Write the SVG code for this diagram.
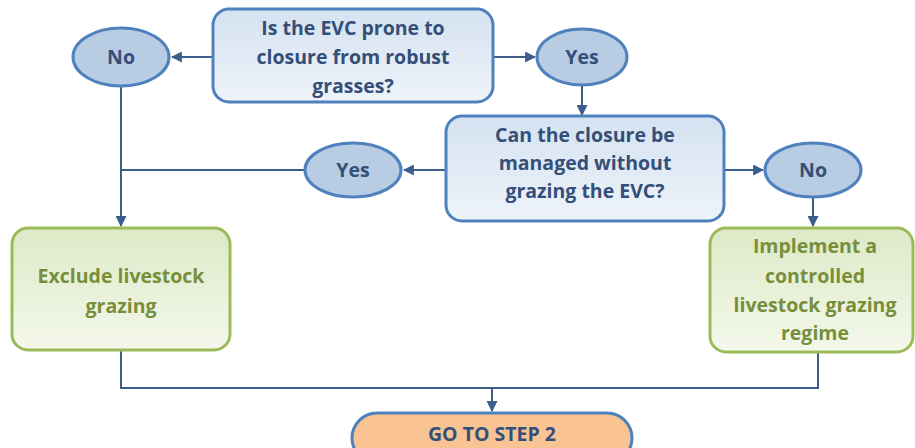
<svg xmlns="http://www.w3.org/2000/svg" width="915" height="448" viewBox="0 0 915 448">
<defs>
<linearGradient id="gb" x1="0" y1="0" x2="0" y2="1"><stop offset="0" stop-color="#d5e2f1"/><stop offset="1" stop-color="#eef3fa"/></linearGradient>
<linearGradient id="gg" x1="0" y1="0" x2="0" y2="1"><stop offset="0" stop-color="#dde9c6"/><stop offset="1" stop-color="#f4f8ec"/></linearGradient>
<marker id="ah" viewBox="0 0 10 10" refX="9" refY="5" markerWidth="5.5" markerHeight="5.5" orient="auto" markerUnits="strokeWidth"><path d="M0,0 L10,5 L0,10 z" fill="#3b5e8c"/></marker>
</defs>
<style>
.q{fill:url(#gb);stroke:#4f81bd;stroke-width:3}
.e{fill:#b8cce4;stroke:#4f81bd;stroke-width:3}
.a{fill:url(#gg);stroke:#9bbb59;stroke-width:3}
.t{font-family:"Open Sans",Lato,sans-serif;font-weight:bold;font-size:19.5px;text-anchor:middle;fill:#344f78}
.tg{font-family:"Open Sans",Lato,sans-serif;font-weight:bold;font-size:19.5px;text-anchor:middle;fill:#778f3a}
.c{fill:none;stroke:#3b5e8c;stroke-width:2}
</style>
<g id="connectors">
<path class="c" d="M213,57 H172" marker-end="url(#ah)"/>
<path class="c" d="M493,57 H535" marker-end="url(#ah)"/>
<path class="c" d="M582,85 V115" marker-end="url(#ah)"/>
<path class="c" d="M446,170 H404" marker-end="url(#ah)"/>
<path class="c" d="M305,170 H121"/>
<path class="c" d="M121,87 V226" marker-end="url(#ah)"/>
<path class="c" d="M724,170 H763" marker-end="url(#ah)"/>
<path class="c" d="M813,197 V226" marker-end="url(#ah)"/>
<path class="c" d="M121,350 V388 H818 V352"/>
<path class="c" d="M492,388 V411" marker-end="url(#ah)"/>
</g>
<g id="q1"><rect class="q" x="213" y="9" width="280" height="93" rx="16"/>
<text class="t" x="353" y="35">Is the EVC prone to</text><text class="t" x="353" y="64">closure from robust</text><text class="t" x="353" y="93">grasses?</text></g>
<g id="no1"><ellipse class="e" cx="121" cy="57" rx="48" ry="29"/><text class="t" x="121" y="64">No</text></g>
<g id="yes1"><ellipse class="e" cx="582" cy="57" rx="45" ry="28"/><text class="t" x="582" y="64">Yes</text></g>
<g id="q2"><rect class="q" x="446" y="116" width="278" height="105" rx="16"/>
<text class="t" x="585" y="142">Can the closure be</text><text class="t" x="585" y="170">managed without</text><text class="t" x="585" y="198">grazing the EVC?</text></g>
<g id="yes2"><ellipse class="e" cx="353" cy="170" rx="48" ry="27"/><text class="t" x="353" y="177">Yes</text></g>
<g id="no2"><ellipse class="e" cx="813" cy="170" rx="48" ry="27"/><text class="t" x="813" y="177">No</text></g>
<g id="exclude"><rect class="a" x="12" y="228" width="218" height="122" rx="16"/>
<text class="tg" x="121" y="283">Exclude livestock</text><text class="tg" x="121" y="313">grazing</text></g>
<g id="implement"><rect class="a" x="710" y="228" width="203" height="124" rx="16"/>
<text class="tg" x="815" y="253">Implement a</text><text class="tg" x="815" y="283">controlled</text><text class="tg" x="815" y="312">livestock grazing</text><text class="tg" x="815" y="340">regime</text></g>
<g id="step2"><rect x="352" y="413" width="280" height="50" rx="25" fill="#fac394" stroke="#4f81bd" stroke-width="3"/>
<text class="t" x="492" y="441">GO TO STEP 2</text></g>
</svg>
